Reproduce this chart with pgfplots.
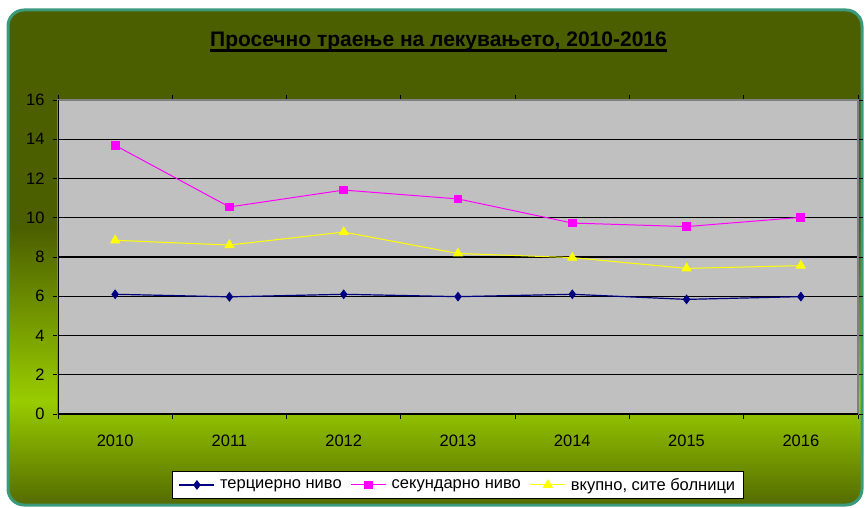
\documentclass[border=0pt]{standalone}
\usepackage{fontspec}
\setmainfont{Liberation Sans}
\usepackage{pgfplots}
\pgfplotsset{compat=1.18}
\definecolor{oliveD}{HTML}{4B5E00}
\definecolor{brightg}{HTML}{99CC00}
\definecolor{framec}{HTML}{3C9A7C}
\definecolor{plotbg}{HTML}{C0C0C0}
\definecolor{navyc}{HTML}{000080}
\definecolor{magc}{HTML}{FF00FF}
\definecolor{yelc}{HTML}{FFFF00}
\begin{document}
\begin{tikzpicture}
\useasboundingbox (0pt,0pt) rectangle (865pt,507pt);
\begin{scope}
\clip[rounded corners=16pt] (8pt,2pt) rectangle (862pt,497pt);
\fill[oliveD] (0pt,0pt) rectangle (865pt,507pt);
\fill[top color=oliveD,bottom color=brightg] (0pt,106pt) rectangle (865pt,280pt);
\fill[top color=brightg,bottom color=oliveD!90!brightg] (0pt,0pt) rectangle (865pt,106.5pt);
\end{scope}
\draw[framec,line width=3pt,rounded corners=16pt] (8pt,2pt) rectangle (862pt,497pt);
\node[inner sep=0pt,anchor=base,font=\bfseries\fontsize{21}{24}\selectfont] (t) at (438.5pt,460pt) {Просечно траење на лекувањето, 2010-2016};
\draw[line width=2.2pt] ([yshift=-3.5pt]t.base west) -- ([yshift=-3.5pt]t.base east);
\begin{axis}[
  at={(58pt,93pt)}, anchor=south west, scale only axis,
  width=800pt, height=314pt,
  xmin=-0.5, xmax=6.5, ymin=0, ymax=16,
  ytick={0,2,...,16},
  xtick={-0.5,0.5,...,6.5}, xticklabels={},
  extra x ticks={0,1,2,3,4,5,6},
  extra x tick labels={2010,2011,2012,2013,2014,2015,2016},
  extra x tick style={major tick length=0pt, xticklabel style={yshift=-17pt}},
  tick align=outside, major tick length=5pt,
  tick style={black, line width=1pt},
  ymajorgrids, major grid style={black, line width=1.2pt},
  axis background/.style={fill=plotbg},
  axis line style={draw=gray, line width=1.5pt},
  ticklabel style={font=\fontsize{16.5}{19}\selectfont},
  /pgf/number format/assume math mode=true,
  yticklabel style={xshift=-5pt},
  legend style={at={(0.5,-0.226)}, anchor=center, legend columns=3,
    draw=black, fill=white, line width=0.8pt, font=\fontsize{16.5}{19}\selectfont,
    inner xsep=6pt, inner ysep=5pt,
    /tikz/every odd column/.append style={column sep=3pt},
    /tikz/every even column/.append style={column sep=7pt}},
  legend image code/.code={\draw[mark repeat=2,mark phase=2] plot coordinates {(0pt,0pt) (17.5pt,0pt) (35pt,0pt)};},
]
\addplot[navyc, line width=1.2pt, mark=diamond*, mark size=4pt, mark options={solid}] coordinates {(0,6.1) (1,5.97) (2,6.1) (3,5.98) (4,6.1) (5,5.84) (6,5.98)};
\addlegendentry{терциерно ниво}
\addplot[magc, line width=1pt, mark=square*, mark size=3.9pt] coordinates {(0,13.69) (1,10.55) (2,11.41) (3,10.96) (4,9.73) (5,9.55) (6,10.02)};
\addlegendentry{секундарно ниво}
\addplot[yelc, line width=1pt, mark=triangle*, mark size=5pt] coordinates {(0,8.85) (1,8.61) (2,9.27) (3,8.18) (4,7.97) (5,7.42) (6,7.56)};
\addlegendentry{вкупно, сите болници}
\draw[black, line width=1.2pt] (rel axis cs:0,0) -- (rel axis cs:0,1);
\draw[black, line width=1.2pt] (rel axis cs:0,0) -- (rel axis cs:1,0);
\end{axis}
\end{tikzpicture}
\end{document}
